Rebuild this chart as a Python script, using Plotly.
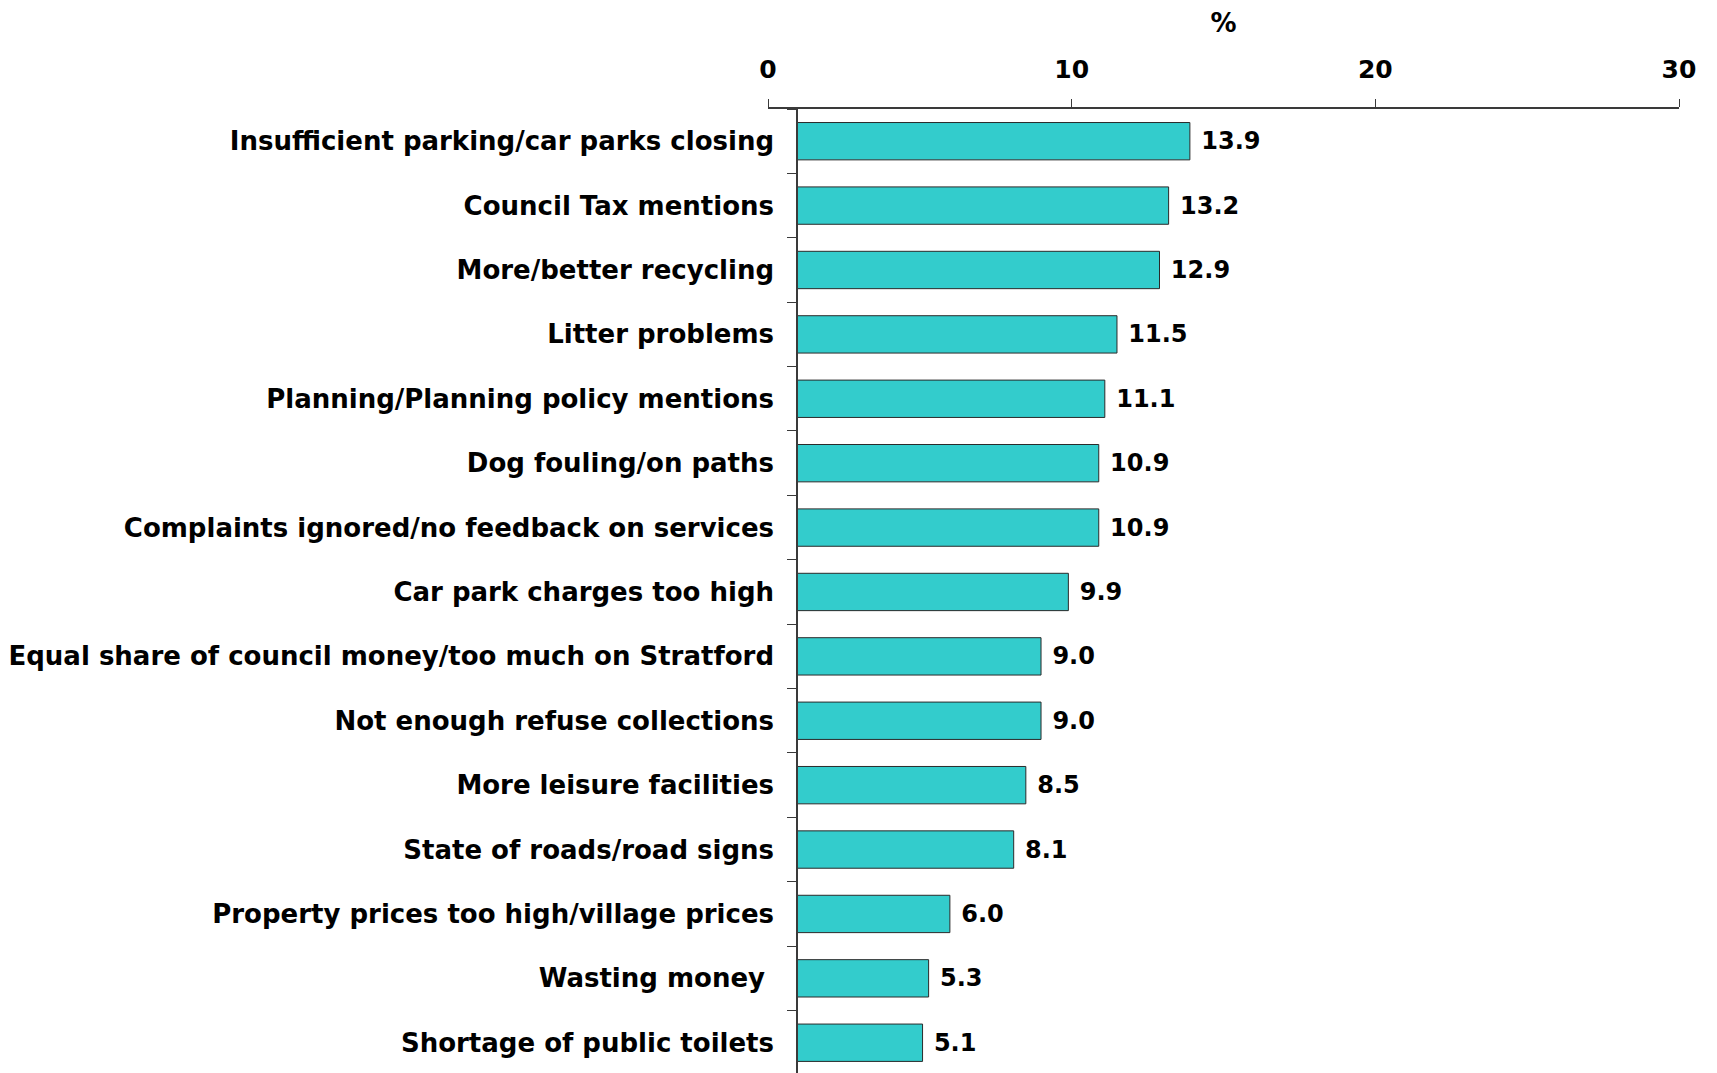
import plotly.graph_objects as go

categories = [
    "Insufficient parking/car parks closing",
    "Council Tax mentions",
    "More/better recycling",
    "Litter problems",
    "Planning/Planning policy mentions",
    "Dog fouling/on paths",
    "Complaints ignored/no feedback on services",
    "Car park charges too high",
    "Equal share of council money/too much on Stratford",
    "Not enough refuse collections",
    "More leisure facilities",
    "State of roads/road signs",
    "Property prices too high/village prices",
    "Wasting money\u00a0",
    "Shortage of public toilets",
]
values = [13.9, 13.2, 12.9, 11.5, 11.1, 10.9, 10.9, 9.9, 9.0, 9.0, 8.5, 8.1, 6.0, 5.3, 5.1]
axis_ticks = [0, 10, 20, 30]
axis_title = "%"

# page body has an 8px default margin; lay out in page coordinates minus that
OFF = 8
W, H = 1717 - OFF, 1073 - OFF
left_px, right_px, top_px = 768 - OFF, 1679.3 - OFF, 109 - OFF
plot_w = right_px - left_px
yaxis_px = 798 - OFF
x_dom_start = (yaxis_px - left_px) / plot_w

FONT = "DejaVu Sans"
LINE = "#3a3a3a"

fig = go.Figure()
fig.add_trace(go.Bar(
    x=values,
    y=categories,
    orientation="h",
    marker=dict(color="#33CCCC", line=dict(color="#2a2a2a", width=1)),
    text=values,
    texttemplate="\u00a0%{x:.1f}",
    textposition="outside",
    textfont=dict(family=FONT, size=24, color="black", weight="bold"),
    cliponaxis=False,
    hoverinfo="skip",
    showlegend=False,
))
# invisible companion trace so the top percentage axis is drawn
fig.add_trace(go.Scatter(
    x=values,
    y=categories,
    xaxis="x2",
    yaxis="y",
    mode="markers",
    marker=dict(opacity=0, size=1),
    hoverinfo="skip",
    showlegend=False,
))

fig.update_layout(
    width=W,
    height=H,
    margin=dict(l=left_px, r=W - right_px, t=top_px, b=0, pad=0),
    paper_bgcolor="white",
    plot_bgcolor="rgba(0,0,0,0)",
    bargap=0.42,
    xaxis=dict(
        domain=[x_dom_start, 1],
        range=[1, 30],
        showline=False,
        showgrid=False,
        zeroline=False,
        showticklabels=False,
        ticks="",
    ),
    xaxis2=dict(
        domain=[0, 1],
        range=[0, 30],
        anchor="y",
        side="top",
        showline=True,
        linecolor=LINE,
        linewidth=1.5,
        ticks="outside",
        ticklen=8,
        tickwidth=1.2,
        tickcolor=LINE,
        tickvals=axis_ticks,
        ticktext=[str(t) for t in axis_ticks],
        ticklabelstandoff=11,
        showgrid=False,
        zeroline=False,
        tickfont=dict(family=FONT, size=25, color="black", weight="bold"),
        title=dict(text=axis_title, font=dict(family=FONT, size=26, color="black", weight="bold"), standoff=16),
    ),
    yaxis=dict(
        anchor="x",
        type="category",
        categoryorder="array",
        categoryarray=categories,
        range=[14.47, -0.5],
        showline=True,
        linecolor=LINE,
        linewidth=1.5,
        ticks="outside",
        ticklen=9,
        tickwidth=1.2,
        tickcolor=LINE,
        tickson="boundaries",
        ticklabelstandoff=17,
        showgrid=False,
        zeroline=False,
        tickfont=dict(family=FONT, size=26, color="black", weight="bold"),
    ),
)

fig.write_html("out.html")
